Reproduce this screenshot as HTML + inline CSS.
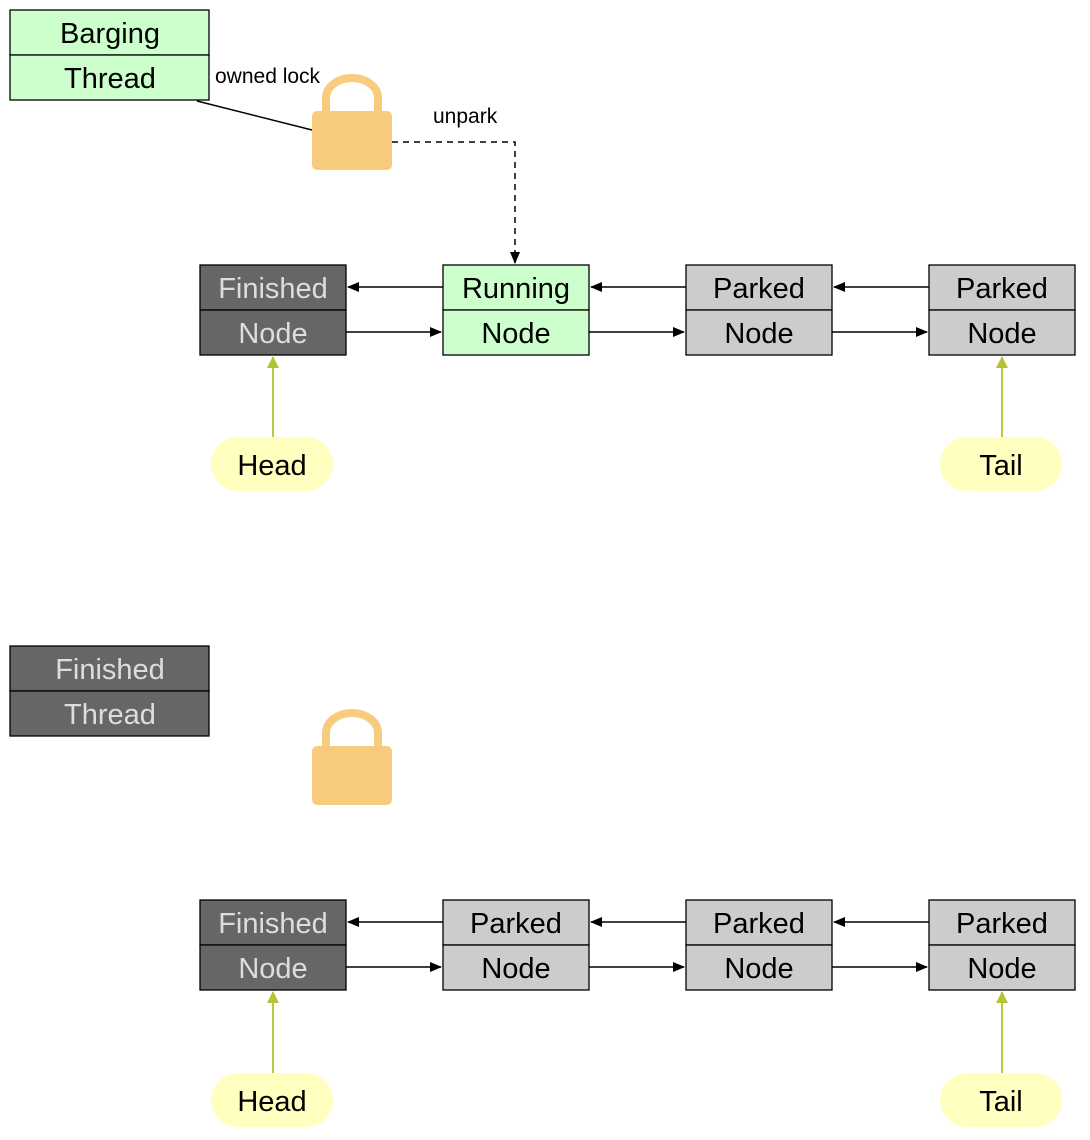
<!DOCTYPE html>
<html><head><style>body{margin:0;background:#fff}svg{display:block}text{font-family:"Liberation Sans",Arial,sans-serif}</style></head><body>
<svg width="1090" height="1140" viewBox="0 0 1090 1140" xmlns="http://www.w3.org/2000/svg">
<defs>
<marker id="a" markerWidth="12" markerHeight="10" refX="11" refY="5" orient="auto" markerUnits="userSpaceOnUse"><path d="M0,0 L12,5 L0,10 Z" fill="#000"/></marker>
<marker id="y" markerWidth="12" markerHeight="12" refX="11" refY="6" orient="auto" markerUnits="userSpaceOnUse"><path d="M0,0 L12,6 L0,12 Z" fill="#b5c334"/></marker>
</defs>
<g stroke="#000" stroke-width="1.3">
<rect x="10" y="10" width="199" height="45" fill="#ccffcc"/><rect x="10" y="55" width="199" height="45" fill="#ccffcc"/>
<rect x="10" y="646" width="199" height="45" fill="#666"/><rect x="10" y="691" width="199" height="45" fill="#666"/>
</g>
<g font-size="29" text-anchor="middle">
<text x="110" y="43">Barging</text><text x="110" y="88">Thread</text>
<text x="110" y="679" fill="#ddd">Finished</text><text x="110" y="724" fill="#ddd">Thread</text>
</g>
<text x="215" y="83" font-size="21">owned lock</text>
<text x="433" y="123" font-size="21">unpark</text>
<line x1="197" y1="101" x2="312" y2="130" stroke="#000" stroke-width="1.5"/>
<path d="M392,142 H515 V263" fill="none" stroke="#000" stroke-width="1.5" stroke-dasharray="6,5" marker-end="url(#a)"/>
<g fill="none" stroke="#f7cd7d" stroke-width="8">
<path d="M326,112 V98 A26,20 0 0 1 378,98 V112"/>
<path d="M326,747 V733 A26,20 0 0 1 378,733 V747"/>
</g>
<rect x="312" y="111" width="80" height="59" rx="5" fill="#f7cd7d"/>
<rect x="312" y="746" width="80" height="59" rx="5" fill="#f7cd7d"/>

<g id="r1">
</g>
<g stroke="#000" stroke-width="1.3">
<rect x="200" y="265" width="146" height="45" fill="#666"/><rect x="200" y="310" width="146" height="45" fill="#666"/>
<rect x="443" y="265" width="146" height="45" fill="#ccffcc"/><rect x="443" y="310" width="146" height="45" fill="#ccffcc"/>
<rect x="686" y="265" width="146" height="45" fill="#ccc"/><rect x="686" y="310" width="146" height="45" fill="#ccc"/>
<rect x="929" y="265" width="146" height="45" fill="#ccc"/><rect x="929" y="310" width="146" height="45" fill="#ccc"/>
<rect x="200" y="900" width="146" height="45" fill="#666"/><rect x="200" y="945" width="146" height="45" fill="#666"/>
<rect x="443" y="900" width="146" height="45" fill="#ccc"/><rect x="443" y="945" width="146" height="45" fill="#ccc"/>
<rect x="686" y="900" width="146" height="45" fill="#ccc"/><rect x="686" y="945" width="146" height="45" fill="#ccc"/>
<rect x="929" y="900" width="146" height="45" fill="#ccc"/><rect x="929" y="945" width="146" height="45" fill="#ccc"/>
</g>
<g font-size="29" text-anchor="middle">
<text x="273" y="298" fill="#ddd">Finished</text><text x="273" y="343" fill="#ddd">Node</text>
<text x="516" y="298">Running</text><text x="516" y="343">Node</text>
<text x="759" y="298">Parked</text><text x="759" y="343">Node</text>
<text x="1002" y="298">Parked</text><text x="1002" y="343">Node</text>
<text x="273" y="933" fill="#ddd">Finished</text><text x="273" y="978" fill="#ddd">Node</text>
<text x="516" y="933">Parked</text><text x="516" y="978">Node</text>
<text x="759" y="933">Parked</text><text x="759" y="978">Node</text>
<text x="1002" y="933">Parked</text><text x="1002" y="978">Node</text>
</g>
<g stroke="#000" stroke-width="1.5" marker-end="url(#a)">
<line x1="443" y1="287" x2="348" y2="287"/><line x1="686" y1="287" x2="591" y2="287"/><line x1="929" y1="287" x2="834" y2="287"/>
<line x1="346" y1="332" x2="441" y2="332"/><line x1="589" y1="332" x2="684" y2="332"/><line x1="832" y1="332" x2="927" y2="332"/>
<line x1="443" y1="922" x2="348" y2="922"/><line x1="686" y1="922" x2="591" y2="922"/><line x1="929" y1="922" x2="834" y2="922"/>
<line x1="346" y1="967" x2="441" y2="967"/><line x1="589" y1="967" x2="684" y2="967"/><line x1="832" y1="967" x2="927" y2="967"/>
</g>
<g stroke="#b5c334" stroke-width="1.8" marker-end="url(#y)">
<line x1="273" y1="437" x2="273" y2="357"/><line x1="1002" y1="437" x2="1002" y2="357"/>
<line x1="273" y1="1073" x2="273" y2="992"/><line x1="1002" y1="1073" x2="1002" y2="992"/>
</g>
<g fill="#ffffc0">
<rect x="211" y="437" width="122" height="54" rx="27"/><rect x="940" y="437" width="122" height="54" rx="27"/>
<rect x="211" y="1073" width="122" height="54" rx="27"/><rect x="940" y="1073" width="122" height="54" rx="27"/>
</g>
<g font-size="29" text-anchor="middle">
<text x="272" y="475">Head</text><text x="1001" y="475">Tail</text>
<text x="272" y="1111">Head</text><text x="1001" y="1111">Tail</text>
</g>
</svg>
</body></html>
